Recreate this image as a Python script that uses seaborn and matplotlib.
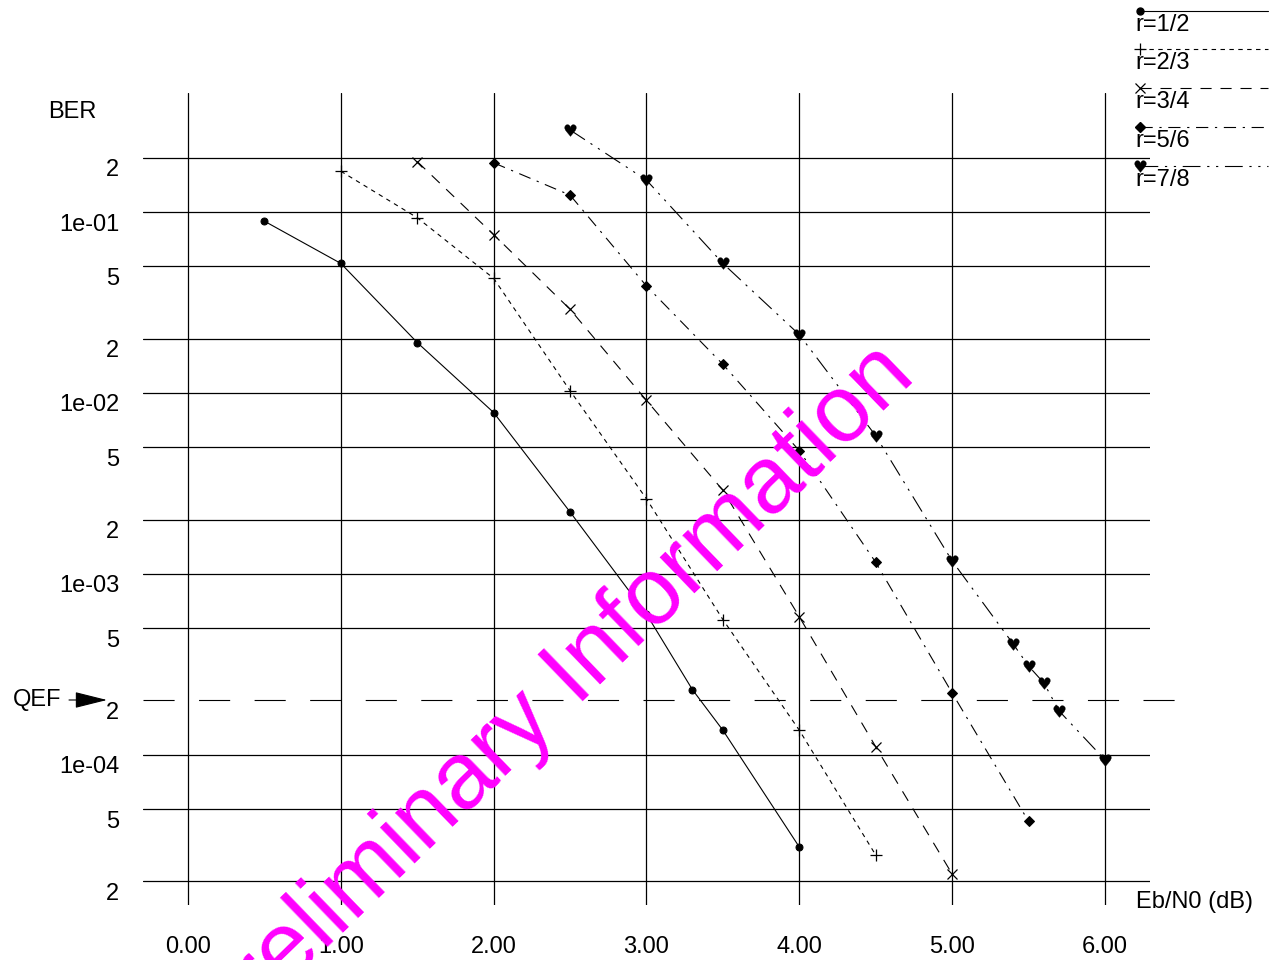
import matplotlib
matplotlib.use("Agg")
import matplotlib.pyplot as plt
from matplotlib.lines import Line2D
from matplotlib.ticker import FixedLocator, NullLocator
import matplotlib.transforms as mtransforms
import seaborn as sns

W, H = 1271, 960

# --- data (Eb/N0 in dB, BER) ---
ebn0_12 = [0.5, 1.0, 1.5, 2.0, 2.5, 3.0, 3.3, 3.5, 4.0]
ber_12 = [8.9e-2, 5.2e-2, 1.9e-2, 7.8e-3, 2.2e-3, 6.0e-4, 2.3e-4, 1.37e-4, 3.1e-5]

ebn0_23 = [1.0, 1.5, 2.0, 2.5, 3.0, 3.5, 4.0, 4.5]
ber_23 = [1.68e-1, 9.3e-2, 4.3e-2, 1.03e-2, 2.6e-3, 5.6e-4, 1.37e-4, 2.8e-5]

ebn0_34 = [1.5, 2.0, 2.5, 3.0, 3.5, 4.0, 4.5, 5.0]
ber_34 = [1.9e-1, 7.5e-2, 2.9e-2, 9.1e-3, 2.9e-3, 5.8e-4, 1.11e-4, 2.2e-5]

ebn0_56 = [2.0, 2.5, 3.0, 3.5, 4.0, 4.5, 5.0, 5.5]
ber_56 = [1.87e-1, 1.24e-1, 3.9e-2, 1.44e-2, 4.8e-3, 1.16e-3, 2.2e-4, 4.3e-5]

ebn0_78 = [2.5, 3.0, 3.5, 4.0, 4.5, 5.0, 5.4, 5.5, 5.6, 5.7, 6.0]
ber_78 = [2.84e-1, 1.5e-1, 5.2e-2, 2.1e-2, 5.8e-3, 1.18e-3, 4.1e-4, 3.1e-4, 2.5e-4, 1.75e-4, 9.4e-5]

rate_labels = ["r=1/2", "r=2/3", "r=3/4", "r=5/6", "r=7/8"]

x_ticks = [0, 1, 2, 3, 4, 5, 6]
x_tick_labels = ["0.00", "1.00", "2.00", "3.00", "4.00", "5.00", "6.00"]
y_ticks = [2e-1, 1e-1, 5e-2, 2e-2, 1e-2, 5e-3, 2e-3, 1e-3, 5e-4, 2e-4, 1e-4, 5e-5, 2e-5]
y_tick_labels = ["2", "1e-01", "5", "2", "1e-02", "5", "2", "1e-03", "5", "2", "1e-04", "5", "2"]
qef_level = 2e-4

series = [(ebn0_12, ber_12), (ebn0_23, ber_23), (ebn0_34, ber_34),
          (ebn0_56, ber_56), (ebn0_78, ber_78)]

# line styles / markers per code rate
styles = [
    dict(marker="o", markersize=5, linestyle="-"),
    dict(marker="+", markersize=8, markeredgewidth=0.9, linestyle=(0, (4, 4))),
    dict(marker="x", markersize=7, markeredgewidth=0.9, linestyle=(0, (10, 8))),
    dict(marker="D", markersize=5.5, linestyle=(0, (11, 6, 2, 6))),
    dict(marker="$\u2665$", markersize=8.5, markeredgewidth=0.2, linestyle=(0, (16, 6, 2, 6, 2, 6))),
]

sns.set_style("white")
plt.rcParams["font.family"] = ["Liberation Sans", "DejaVu Sans"]
plt.rcParams["font.size"] = 17
plt.rcParams["text.color"] = "black"
plt.rcParams["xtick.color"] = "black"
plt.rcParams["ytick.color"] = "black"

fig = plt.figure(figsize=(W / 100, H / 100), dpi=100)
ax = fig.add_axes([143 / W, 1 - 905 / H, (1150 - 143) / W, (905 - 93) / H])

def px(x, y):
    return x / W, 1 - y / H

# watermark underneath the curves
fig.text(*px(568, 716), "Preliminary Information", color="#ff00ff", fontsize=68,
         rotation=44, rotation_mode="anchor", ha="center", va="baseline", zorder=0)
ax.patch.set_alpha(0)

for (xs, ys), st in zip(series, styles):
    sns.lineplot(x=xs, y=ys, ax=ax, color="black", linewidth=0.8,
                 markeredgecolor="black", estimator=None, sort=False, **st)

ax.set_yscale("log")
ax.set_xlim(-0.2944, 6.2946)
ax.set_ylim(1.483e-5, 0.4545)

ax.xaxis.set_major_locator(FixedLocator(x_ticks))
ax.set_xticklabels(x_tick_labels)
ax.yaxis.set_major_locator(FixedLocator(y_ticks))
ax.yaxis.set_minor_locator(NullLocator())
ax.set_yticklabels(y_tick_labels)
ax.tick_params(axis="both", length=0, labelsize=17, labelcolor="black")
ax.tick_params(axis="x", pad=22)
ax.tick_params(axis="y", pad=17)
shift = mtransforms.ScaledTranslation(0, -0.10, fig.dpi_scale_trans)
for lab in ax.get_yticklabels():
    lab.set_transform(lab.get_transform() + shift)

ax.grid(True, color="black", linewidth=0.9)
ax.set_axisbelow(True)
for v, gl in zip(y_ticks, ax.yaxis.get_gridlines()):
    if v == qef_level:
        gl.set_visible(False)
for sp in ax.spines.values():
    sp.set_visible(False)

# QEF reference line
ax.axhline(qef_level, xmin=0, xmax=(1188 - 143) / (1150 - 143), color="black",
           linewidth=0.8, linestyle=(0, (28, 22)), clip_on=False)
fig.text(*px(37, 700), "QEF", ha="center", va="center", fontsize=17)
ax.annotate("", xy=px(107, 700), xycoords="figure fraction",
            xytext=px(69, 700), textcoords="figure fraction",
            arrowprops=dict(arrowstyle="-|>,head_length=1.2,head_width=0.3",
                            color="black", lw=0.8, shrinkA=0, shrinkB=0))

fig.text(*px(72, 112), "BER", ha="center", va="center", fontsize=17)
fig.text(*px(1195, 902), "Eb/N0 (dB)", ha="center", va="center", fontsize=17)

# legend in the top-right corner: marker at line start, label underneath
leg_y = [11, 49, 88, 127, 166]
for ly, st, lab in zip(leg_y, styles, rate_labels):
    x0, y0 = px(1140, ly)
    x1, _ = px(1268, ly)
    ln = Line2D([x0, x1], [y0, y0], transform=fig.transFigure, color="black",
                linewidth=0.8, markeredgecolor="black", markevery=[0], **st)
    fig.add_artist(ln)
    fig.text(*px(1135, ly + 14), lab, ha="left", va="center", fontsize=17)

fig.savefig("out.png", dpi=100)
